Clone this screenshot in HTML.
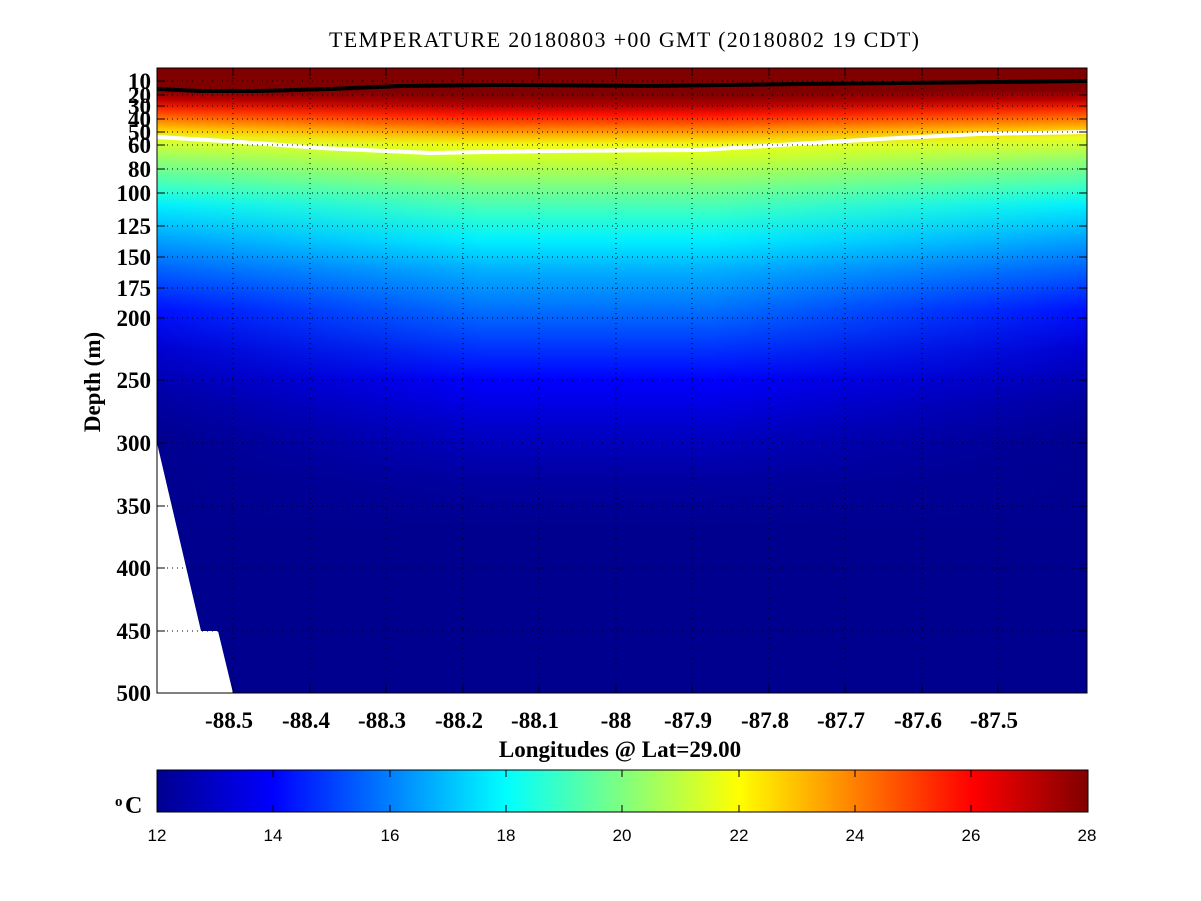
<!DOCTYPE html>
<html><head><meta charset="utf-8"><style>body{margin:0;background:#fff}svg{display:block}</style></head><body>
<svg width="1201" height="901" xmlns="http://www.w3.org/2000/svg">
<defs>
<linearGradient id="gc" gradientUnits="userSpaceOnUse" x1="0" y1="68" x2="0" y2="693">
<stop offset="0" stop-color="#800000"/><stop offset="0.043" stop-color="#800000"/>
<stop offset="0.059" stop-color="#b00000"/><stop offset="0.075" stop-color="#ff1000"/>
<stop offset="0.091" stop-color="#ff6000"/><stop offset="0.107" stop-color="#ffb000"/>
<stop offset="0.123" stop-color="#f0ff10"/><stop offset="0.147" stop-color="#c8ff30"/>
<stop offset="0.187" stop-color="#80ff80"/><stop offset="0.235" stop-color="#30ffd0"/>
<stop offset="0.275" stop-color="#00f0ff"/><stop offset="0.323" stop-color="#00b0ff"/>
<stop offset="0.371" stop-color="#0080ff"/><stop offset="0.435" stop-color="#0040ff"/>
<stop offset="0.499" stop-color="#0000ff"/><stop offset="0.579" stop-color="#0000c8"/>
<stop offset="0.659" stop-color="#0000a0"/><stop offset="0.739" stop-color="#00008f"/>
<stop offset="1" stop-color="#00008f"/>
</linearGradient>
<linearGradient id="ge" gradientUnits="userSpaceOnUse" x1="0" y1="68" x2="0" y2="693">
<stop offset="0" stop-color="#800000"/><stop offset="0.035" stop-color="#800000"/>
<stop offset="0.051" stop-color="#c00000"/><stop offset="0.067" stop-color="#ff3000"/>
<stop offset="0.083" stop-color="#ff8000"/><stop offset="0.099" stop-color="#ffd000"/>
<stop offset="0.112" stop-color="#e8ff20"/><stop offset="0.147" stop-color="#90ff70"/>
<stop offset="0.195" stop-color="#30ffd0"/><stop offset="0.219" stop-color="#00f0ff"/>
<stop offset="0.275" stop-color="#00a0ff"/><stop offset="0.323" stop-color="#0060ff"/>
<stop offset="0.387" stop-color="#0010ff"/><stop offset="0.451" stop-color="#0000d0"/>
<stop offset="0.531" stop-color="#0000a0"/><stop offset="0.595" stop-color="#00008f"/>
<stop offset="1" stop-color="#00008f"/>
</linearGradient>
<linearGradient id="hm" gradientUnits="userSpaceOnUse" x1="157" y1="0" x2="1087" y2="0">
<stop offset="0" stop-color="#fff"/><stop offset="0.35" stop-color="#000"/>
<stop offset="0.6" stop-color="#000"/><stop offset="1" stop-color="#fff"/>
</linearGradient>
<mask id="m"><rect x="157" y="68" width="930" height="625" fill="url(#hm)"/></mask>
<linearGradient id="cb" x1="0" y1="0" x2="1" y2="0">
<stop offset="0" stop-color="#00008f"/><stop offset="0.125" stop-color="#0000ff"/>
<stop offset="0.375" stop-color="#00ffff"/><stop offset="0.625" stop-color="#ffff00"/>
<stop offset="0.875" stop-color="#ff0000"/><stop offset="1" stop-color="#800000"/>
</linearGradient>
</defs>
<text x="624" y="47" font-family="Liberation Serif" font-size="22" text-anchor="middle" textLength="590">TEMPERATURE 20180803 +00 GMT (20180802 19 CDT)</text>
<rect x="157" y="68" width="930" height="625" fill="url(#gc)"/>
<rect x="157" y="68" width="930" height="625" fill="url(#ge)" mask="url(#m)"/>
<polyline points="157,89 200,91 260,91 330,89 400,86 500,85 650,86 800,84 900,83 1000,82 1087,81" fill="none" stroke="#000" stroke-width="4"/>
<polyline points="157,137 240,142 320,148 430,153 550,151 700,150 780,145 880,139 980,134 1087,132" fill="none" stroke="#fff" stroke-width="4"/>
<polygon points="157,443 201,631 218,631 233,693 157,693" fill="#fff"/>
<g stroke="#000" stroke-width="1" stroke-dasharray="1,4" fill="none">
<path d="M157,81H1087M157,95H1087M157,106H1087M157,119H1087M157,132H1087M157,145H1087M157,169H1087M157,193H1087M157,226H1087M157,257H1087M157,288H1087M157,318H1087M157,380H1087M157,443H1087M157,506H1087M157,568H1087M157,631H1087"/>
<path d="M233,68V693M310,68V693M386,68V693M463,68V693M539,68V693M616,68V693M692,68V693M769,68V693M845,68V693M922,68V693M998,68V693"/>
</g>
<g stroke="#000" stroke-width="1">
<path d="M157,81h8M157,95h8M157,106h8M157,119h8M157,132h8M157,145h8M157,169h8M157,193h8M157,226h8M157,257h8M157,288h8M157,318h8M157,380h8M157,443h8M157,506h8M157,568h8M157,631h8"/>
<path d="M1087,81h-8M1087,95h-8M1087,106h-8M1087,119h-8M1087,132h-8M1087,145h-8M1087,169h-8M1087,193h-8M1087,226h-8M1087,257h-8M1087,288h-8M1087,318h-8M1087,380h-8M1087,443h-8M1087,506h-8M1087,568h-8M1087,631h-8"/>
<path d="M233,693v-8M310,693v-8M386,693v-8M463,693v-8M539,693v-8M616,693v-8M692,693v-8M769,693v-8M845,693v-8M922,693v-8M998,693v-8M233,68v8M310,68v8M386,68v8M463,68v8M539,68v8M616,68v8M692,68v8M769,68v8M845,68v8M922,68v8M998,68v8"/>
</g>
<rect x="157" y="68" width="930" height="625" fill="none" stroke="#000" stroke-width="1"/>
<g font-family="Liberation Serif" font-size="23" font-weight="bold" text-anchor="end">
<text x="151" y="89">10</text><text x="151" y="103">20</text><text x="151" y="114">30</text><text x="151" y="127">40</text><text x="151" y="140">50</text><text x="151" y="153">60</text><text x="151" y="177">80</text><text x="151" y="201">100</text><text x="151" y="234">125</text><text x="151" y="265">150</text><text x="151" y="296">175</text><text x="151" y="326">200</text><text x="151" y="388">250</text><text x="151" y="451">300</text><text x="151" y="514">350</text><text x="151" y="576">400</text><text x="151" y="639">450</text><text x="151" y="701">500</text>
</g>
<g font-family="Liberation Serif" font-size="23" font-weight="bold" text-anchor="middle">
<text x="229" y="728">-88.5</text><text x="306" y="728">-88.4</text><text x="382" y="728">-88.3</text><text x="459" y="728">-88.2</text><text x="535" y="728">-88.1</text><text x="616" y="728">-88</text><text x="688" y="728">-87.9</text><text x="765" y="728">-87.8</text><text x="841" y="728">-87.7</text><text x="918" y="728">-87.6</text><text x="994" y="728">-87.5</text>
<text x="620" y="757">Longitudes @ Lat=29.00</text>
<text x="0" y="0" transform="translate(100,382) rotate(-90)">Depth (m)</text>
</g>
<rect x="157" y="770" width="931" height="42" fill="url(#cb)" stroke="#000" stroke-width="1"/>
<g stroke="#000" stroke-width="1">
<path d="M273,770v7M273,812v-7M390,770v7M390,812v-7M506,770v7M506,812v-7M622,770v7M622,812v-7M739,770v7M739,812v-7M855,770v7M855,812v-7M971,770v7M971,812v-7"/>
</g>
<text x="125" y="813" font-family="Liberation Serif" font-size="24" font-weight="bold">C</text>
<text x="115" y="806" font-family="Liberation Serif" font-size="15" font-weight="bold">o</text>
<g font-family="Liberation Sans" font-size="17" text-anchor="middle">
<text x="157" y="841">12</text><text x="273" y="841">14</text><text x="390" y="841">16</text><text x="506" y="841">18</text><text x="622" y="841">20</text><text x="739" y="841">22</text><text x="855" y="841">24</text><text x="971" y="841">26</text><text x="1087" y="841">28</text>
</g>
</svg>
</body></html>
